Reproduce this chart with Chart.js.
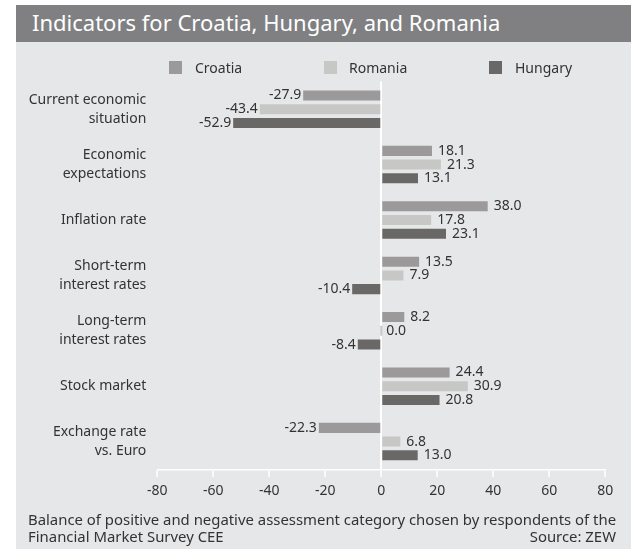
<!DOCTYPE html>
<html>
<head>
<meta charset="utf-8">
<script src="https://cdn.jsdelivr.net/npm/chart.js@4.4.1/dist/chart.umd.min.js"></script>
<style>
  html, body { margin: 0; padding: 0; background: #ffffff; }
  body { width: 631px; height: 549px; position: relative; overflow: hidden; font-family: "Noto Sans", sans-serif; color: #333333; }
  #panel { position: absolute; left: 16px; top: 5px; width: 615px; height: 544px; background: #e6e7e8; }
  #titlebar { position: absolute; left: 16px; top: 5px; width: 615px; height: 37px; background: #808083; }
  #title { position: absolute; left: 32px; top: 7px; font-size: 22px; color: #ffffff; white-space: nowrap; line-height: 30px; }
  #chart { position: absolute; left: 0; top: 0; }
  .lg { position: absolute; top: 59px; font-size: 14px; line-height: 17px; white-space: nowrap; }
  .lgbox { position: absolute; width: 13px; height: 13px; top: 61px; }
  .foot { position: absolute; font-size: 14.9px; line-height: 17px; white-space: nowrap; color: #333333; }
</style>
</head>
<body>
<div id="panel"></div>
<div id="titlebar"></div>
<div id="title">Indicators for Croatia, Hungary, and Romania</div>
<canvas id="chart" width="631" height="549"></canvas>
<div id="legend"></div>
<div class="foot" style="left:28px; top:511px;">Balance of positive and negative assessment category chosen by respondents of the</div>
<div class="foot" style="left:28px; top:528px;">Financial Market Survey CEE</div>
<div class="foot" style="right:15px; top:528px;">Source: ZEW</div>
<script>
const categories = [
  ["Current economic", "situation"],
  ["Economic", "expectations"],
  ["Inflation rate"],
  ["Short-term", "interest rates"],
  ["Long-term", "interest rates"],
  ["Stock market"],
  ["Exchange rate", "vs. Euro"]
];
const seriesNames = ["Croatia", "Romania", "Hungary"];
const croatia = [-27.9, 18.1, 38.0, 13.5, 8.2, 24.4, -22.3];
const romania = [-43.4, 21.3, 17.8, 7.9, 0.0, 30.9, 6.8];
const hungary = [-52.9, 13.1, 23.1, -10.4, -8.4, 20.8, 13.0];
const xTicks = [-80, -60, -40, -20, 0, 20, 40, 60, 80];

const colors = ["#9b999a", "#c7c7c5", "#6a6866"];
const seriesValues = [croatia, romania, hungary];

// HTML legend built from series names
const legendPos = [{box:169, text:195}, {box:324, text:349}, {box:489, text:515}];
const legendEl = document.getElementById('legend');
seriesNames.forEach((n, i) => {
  const b = document.createElement('div');
  b.className = 'lgbox';
  b.style.left = legendPos[i].box + 'px';
  b.style.background = colors[i];
  legendEl.appendChild(b);
  const t = document.createElement('div');
  t.className = 'lg';
  t.style.left = legendPos[i].text + 'px';
  t.textContent = n;
  legendEl.appendChild(t);
});

const valueLabels = {
  id: 'valueLabels',
  afterDatasetsDraw(chart) {
    const ctx = chart.ctx;
    ctx.save();
    ctx.font = '14px "Noto Sans", sans-serif';
    ctx.fillStyle = '#333333';
    ctx.textBaseline = 'middle';
    chart.data.datasets.forEach((ds, di) => {
      const meta = chart.getDatasetMeta(di);
      meta.data.forEach((bar, i) => {
        const v = ds.data[i];
        const txt = v.toFixed(1);
        if (v < 0) {
          ctx.textAlign = 'right';
          ctx.fillText(txt, bar.x - 2, bar.y);
        } else {
          ctx.textAlign = 'left';
          ctx.fillText(txt, bar.x + 6, bar.y);
        }
      });
    });
    ctx.restore();
  }
};

new Chart(document.getElementById('chart'), {
  type: 'bar',
  data: {
    labels: categories,
    datasets: seriesNames.map((n, i) => ({
      label: n,
      data: seriesValues[i],
      backgroundColor: colors[i],
      borderWidth: 0,
      minBarLength: 2,
      categoryPercentage: 0.743,
      barPercentage: 0.73
    }))
  },
  options: {
    indexAxis: 'y',
    responsive: false,
    animation: false,
    devicePixelRatio: 1,
    layout: { padding: { left: 0, right: 25.7, top: 81.5, bottom: 49.7 } },
    plugins: { legend: { display: false }, tooltip: { enabled: false } },
    scales: {
      x: {
        type: 'linear',
        min: -80, max: 80,
        afterBuildTicks: (s) => { s.ticks = xTicks.map(v => ({ value: v })); },
        afterFit: (s) => { s.height = 30; },
        ticks: { font: { family: '"Noto Sans", sans-serif', size: 14 }, color: '#333333', padding: 5, maxRotation: 0 },
        grid: {
          color: (c) => (c.tick && c.tick.value === 0) ? '#ffffff' : 'rgba(0,0,0,0)',
          lineWidth: 2,
          tickColor: '#ffffff',
          tickWidth: 1.5,
          tickLength: 8,
          drawOnChartArea: true
        },
        border: { display: true, color: '#ffffff', width: 1.5 }
      },
      y: {
        afterFit: (s) => { s.width = 157.3; },
        grid: { display: false, drawTicks: false },
        border: { display: false },
        ticks: { font: { family: '"Noto Sans", sans-serif', size: 14, lineHeight: 1.35 }, color: '#333333', padding: 11 }
      }
    }
  },
  plugins: [valueLabels]
});
</script>
</body>
</html>
